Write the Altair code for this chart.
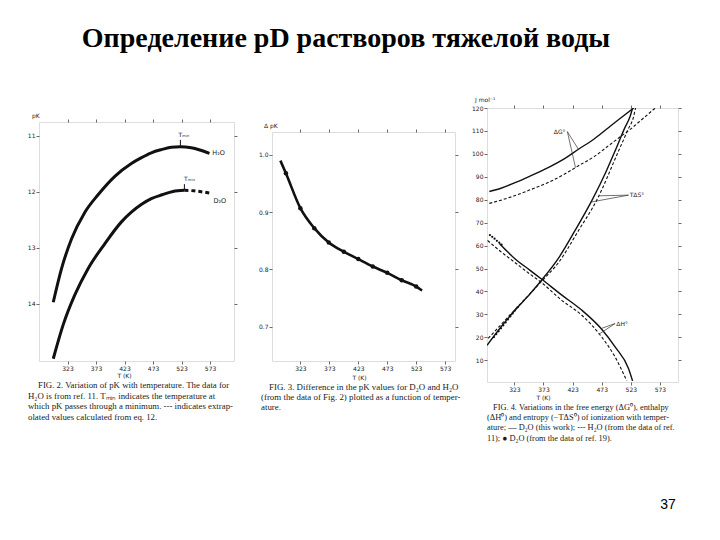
import altair as alt
import pandas as pd

TITLE = "Определение pD растворов тяжелой воды"
PAGE_NO = "37"
X_TICKS = [323, 373, 423, 473, 523, 573]
AXIS_T_TITLE = "T  (K)"

# ---------- Fig. 2 : pK vs T ----------
F2_H2O_T = [298, 312.5, 330, 353, 376.6, 406, 435, 452, 470, 489, 505, 521, 540, 555, 572]
F2_H2O_PK = [13.97, 13.37, 12.84, 12.37, 12.05, 11.72, 11.49, 11.39, 11.30, 11.24, 11.20, 11.19, 11.21, 11.25, 11.31]
F2_D2O_T = [298, 315.5, 335.8, 359, 388, 418, 435, 453, 470, 489, 508, 528]
F2_D2O_PK = [14.98, 14.37, 13.84, 13.37, 12.93, 12.53, 12.36, 12.22, 12.12, 12.05, 11.99, 11.97]
F2_D2O_EXT_T = [528, 545, 560, 573]
F2_D2O_EXT_PK = [11.97, 11.98, 12.0, 12.02]
F2_TMIN_T = [521, 528]
F2_TMIN_PK = [11.19, 11.97]
F2_TMIN_TOP = [11.07, 11.86]
F2_TMIN_LABEL = ["Tₘᵢₙ", "Tₘᵢₙ"]
F2_TMIN_LABEL_T = [527, 537]
F2_TMIN_LABEL_PK = [10.99, 11.77]
F2_NAMES = ["H₂O", "D₂O"]
F2_NAME_T = [577, 579]
F2_NAME_PK = [11.31, 12.17]
F2_Y_TICKS = [11, 12, 13, 14]
F2_YLABEL = "pK"
F2_CAPTION = [
    "FIG. 2.  Variation of pK with temperature. The data for",
    "H₂O is from ref. 11. Tₘᵢₙ indicates the temperature at",
    "which pK passes through a minimum. --- indicates extrap-",
    "olated values calculated from eq. 12.",
]

# ---------- Fig. 3 : delta pK vs T ----------
F3_T = [288.5, 298, 323, 347, 372, 398, 423, 448, 473, 498, 523, 533]
F3_DPK = [0.99, 0.968, 0.907, 0.872, 0.847, 0.831, 0.818, 0.805, 0.794, 0.781, 0.770, 0.763]
F3_DOT_T = [298, 323, 347, 372, 398, 423, 448, 473, 498, 523]
F3_DOT_DPK = [0.968, 0.907, 0.872, 0.847, 0.831, 0.818, 0.805, 0.794, 0.781, 0.770]
F3_Y_TICKS = [0.7, 0.8, 0.9, 1.0]
F3_YLABEL = "Δ pK"
F3_CAPTION = [
    "FIG. 3.  Difference in the pK values for D₂O and H₂O",
    "(from the data of Fig. 2) plotted as a function of temper-",
    "ature.",
]

# ---------- Fig. 4 : thermodynamic functions ----------
F4_G_D2O_T = [280, 300, 323, 350, 381, 410, 433, 460, 484.5, 505, 528]
F4_G_D2O = [83.6, 85.0, 87.3, 90.3, 94.0, 98.0, 102.0, 106.5, 111.4, 115.5, 120.0]
F4_G_H2O_T = [280, 300, 323, 350, 381, 410, 433, 460, 484.5, 505, 522, 542, 565]
F4_G_H2O = [78.4, 79.8, 81.7, 84.3, 87.5, 91.3, 94.8, 98.8, 103.5, 107.5, 110.7, 115.0, 120.0]
F4_S_D2O_T = [276, 300, 323, 350, 370, 400, 427, 456, 480, 496, 512, 522, 526]
F4_S_D2O = [16.5, 24.5, 31.5, 39.0, 45.0, 55.0, 66.5, 79.6, 92.0, 101.3, 111.0, 116.5, 120.0]
F4_S_H2O_T = [278, 300, 323, 350, 370, 400, 433, 464, 502, 518, 528, 531]
F4_S_H2O = [19.5, 25.5, 31.8, 39.0, 44.5, 53.0, 66.5, 79.6, 101.3, 110.5, 116.5, 120.0]
F4_H_D2O_T = [297, 310, 323, 350, 370, 404, 438, 473, 496, 519, 526]
F4_H_D2O = [61.0, 57.6, 54.5, 49.2, 45.3, 38.5, 32.0, 23.5, 15.8, 6.4, 1.0]
F4_H_H2O_T = [277, 300, 323, 350, 370, 404, 438, 473, 496, 516]
F4_H_H2O = [62.2, 57.3, 52.8, 47.5, 43.8, 36.2, 29.8, 20.1, 11.4, 1.0]
F4_REF19_T = [281, 285, 289, 293, 297, 301, 288, 292, 296, 300, 304, 308, 312, 316, 320, 324, 329]
F4_REF19 = [64.6, 63.8, 63.0, 62.1, 61.3, 60.4, 20.1, 21.4, 22.6, 23.9, 25.2, 26.5, 27.8, 29.1, 30.4, 31.7, 33.2]
F4_LABELS = ["ΔG°", "TΔS°", "ΔH°"]
F4_LABEL_T = [411, 521, 498]
F4_LABEL_Y = [109.7, 82.0, 26.0]
F4_LABEL_ALIGN = ["right", "left", "left"]
F4_LEAD_T1 = [414, 414, 519, 519, 496, 496]
F4_LEAD_Y1 = [109.7, 109.7, 82.0, 82.0, 26.0, 26.0]
F4_LEAD_T2 = [433, 428, 468, 455, 472, 468]
F4_LEAD_Y2 = [102.0, 94.0, 81.7, 79.0, 23.8, 21.3]
F4_Y_TICKS = [10, 20, 30, 40, 50, 60, 70, 80, 90, 100, 110, 120]
F4_YLABEL = "J  mol⁻¹"
F4_CAPTION = [
    "FIG. 4.  Variations in the free energy (ΔG⁰), enthalpy",
    "(ΔH⁰) and entropy (−TΔS⁰) of ionization with temper-",
    "ature; — D₂O (this work); --- H₂O (from the data of ref.",
    "11); ● D₂O (from the data of ref. 19).",
]

INK = "#111111"
TXT = "#222222"
ONE = pd.DataFrame({"a": [0]})

AXC = dict(labelFontSize=6, labelColor=TXT, labelFont="DejaVu Sans", tickSize=3,
           tickColor="#444", tickWidth=0.8, labelPadding=1, domain=False, grid=False)


def xy_df(xs, ys):
    return pd.DataFrame({"T": xs, "v": ys})


def main_axes(xscale, yscale, yvals, yfmt, title_x, title_y):
    x = alt.X("T:Q", scale=xscale, axis=alt.Axis(
        values=X_TICKS, format="d", title=AXIS_T_TITLE, titleX=title_x, titleY=title_y,
        titleFontSize=6, titleFontWeight="normal", titleColor=TXT, titleFont="DejaVu Sans",
        titleAlign="center", titleBaseline="top", **AXC))
    y = alt.Y("v:Q", scale=yscale, axis=alt.Axis(values=yvals, format=yfmt, title=None, **AXC))
    return x, y


def mirror_layer(df, xscale, yscale, yvals):
    return alt.Chart(df).mark_point(opacity=0).encode(
        x=alt.X("T:Q", scale=xscale, axis=alt.Axis(orient="top", values=X_TICKS, labels=False,
                                                    title=None, tickSize=3, tickColor="#444",
                                                    tickWidth=0.8, domain=False, grid=False)),
        y=alt.Y("v:Q", scale=yscale, axis=alt.Axis(orient="right", values=yvals, labels=False,
                                                    title=None, tickSize=3, tickColor="#444",
                                                    tickWidth=0.8, domain=False, grid=False)),
    )


def line(df, xscale, yscale, width, dash=None, x=None, y=None):
    kw = dict(color=INK, strokeWidth=width, interpolate="monotone", clip=True)
    if dash:
        kw["strokeDash"] = dash
    return alt.Chart(df).mark_line(**kw).encode(
        x=x if x is not None else alt.X("T:Q", scale=xscale, axis=None),
        y=y if y is not None else alt.Y("v:Q", scale=yscale, axis=None),
    )


def free_text(text, x, y, size=6, align="left", baseline="middle", font="DejaVu Sans",
              color=TXT, line_height=None):
    kw = dict(text=text, align=align, baseline=baseline, font=font, fontSize=size, color=color)
    if line_height:
        kw["lineHeight"] = line_height
    return alt.Chart(ONE).mark_text(**kw).encode(x=alt.value(x), y=alt.value(y))


def side_spacers(left, right):
    # invisible marks fixing the horizontal extent of a panel
    return [free_text(".", left, 4, size=2, baseline="top", color="white"),
            free_text(".", right, 4, size=2, align="right", baseline="top", color="white")]


def caption(lines, x_first, x_rest, y0, size=8, lh=10.5):
    return [free_text(lines[0], x_first, y0, size=size, baseline="top",
                      font="Liberation Serif", color="#1a1a1a"),
            free_text(lines[1:], x_rest, y0 + lh, size=size, baseline="top",
                      font="Liberation Serif", color="#1a1a1a", line_height=lh)]


def top_gap(width, height):
    return alt.Chart(ONE).mark_point(opacity=0).encode(
        x=alt.value(1), y=alt.value(height / 2)
    ).properties(width=width, height=height, view=alt.ViewBackground(strokeOpacity=0))


# ================= Panel 1 =================
W1, H1 = 195, 239
xs1 = alt.Scale(domain=[273, 615], nice=False, zero=False)
ys1 = alt.Scale(domain=[10.75, 15.02], reverse=True, nice=False, zero=False)
h2o = xy_df(F2_H2O_T, F2_H2O_PK)
d2o = xy_df(F2_D2O_T, F2_D2O_PK)
d2o_ext = xy_df(F2_D2O_EXT_T, F2_D2O_EXT_PK)
bx1, by1 = main_axes(xs1, ys1, F2_Y_TICKS, "d", 85, 11)
tmin = pd.DataFrame({"T": F2_TMIN_T, "v": F2_TMIN_PK, "v2": F2_TMIN_TOP, "lab": F2_TMIN_LABEL,
                     "lt": F2_TMIN_LABEL_T, "lv": F2_TMIN_LABEL_PK})
names1 = pd.DataFrame({"T": F2_NAME_T, "v": F2_NAME_PK, "lab": F2_NAMES})

p1_layers = [
    line(h2o, xs1, ys1, 3, x=bx1, y=by1),
    line(d2o, xs1, ys1, 3),
    line(d2o_ext, xs1, ys1, 3, dash=[4, 3]),
    alt.Chart(tmin).mark_rule(color=INK, strokeWidth=1).encode(
        x=alt.X("T:Q", scale=xs1, axis=None), y=alt.Y("v:Q", scale=ys1, axis=None), y2="v2:Q"),
    alt.Chart(tmin).mark_text(fontSize=6, color=TXT, font="DejaVu Sans").encode(
        x=alt.X("lt:Q", scale=xs1, axis=None), y=alt.Y("lv:Q", scale=ys1, axis=None), text="lab:N"),
    alt.Chart(names1).mark_text(fontSize=6.5, color=TXT, font="DejaVu Sans", align="left").encode(
        x=alt.X("T:Q", scale=xs1, axis=None), y=alt.Y("v:Q", scale=ys1, axis=None), text="lab:N"),
    mirror_layer(h2o, xs1, ys1, F2_Y_TICKS),
    free_text(F2_YLABEL, -7, -6, size=6),
] + caption(F2_CAPTION, -1, -11, 259, size=8.8, lh=10.6) + side_spacers(-14, 210)
p1 = alt.layer(*p1_layers).properties(width=W1, height=H1).resolve_axis(x="independent", y="independent")

# ================= Panel 2 =================
W2, H2 = 183, 229
xs2 = alt.Scale(domain=[274, 590], nice=False, zero=False)
ys2 = alt.Scale(domain=[0.64, 1.04], nice=False, zero=False)
d3 = xy_df(F3_T, F3_DPK)
d3dots = xy_df(F3_DOT_T, F3_DOT_DPK)
bx2, by2 = main_axes(xs2, ys2, F3_Y_TICKS, ".1f", 87, 13)
p2_layers = [
    line(d3, xs2, ys2, 2.6, x=bx2, y=by2),
    alt.Chart(d3dots).mark_circle(color=INK, size=20, opacity=1).encode(
        x=alt.X("T:Q", scale=xs2, axis=None), y=alt.Y("v:Q", scale=ys2, axis=None)),
    mirror_layer(d3, xs2, ys2, F3_Y_TICKS),
    free_text(F3_YLABEL, -8, -6, size=6),
] + caption(F3_CAPTION, -3, -11, 251, size=8.9, lh=10.2) + side_spacers(-21, 196)
p2 = alt.layer(*p2_layers).properties(width=W2, height=H2).resolve_axis(x="independent", y="independent")

# ================= Panel 3 =================
W3, H3 = 191, 274
xs3 = alt.Scale(domain=[276, 604], nice=False, zero=False)
ys3 = alt.Scale(domain=[0.5, 120], nice=False, zero=False)
bx3, by3 = main_axes(xs3, ys3, F4_Y_TICKS, "d", 56, 12)
gD = xy_df(F4_G_D2O_T, F4_G_D2O)
gH = xy_df(F4_G_H2O_T, F4_G_H2O)
sD = xy_df(F4_S_D2O_T, F4_S_D2O)
sH = xy_df(F4_S_H2O_T, F4_S_H2O)
hD = xy_df(F4_H_D2O_T, F4_H_D2O)
hH = xy_df(F4_H_H2O_T, F4_H_H2O)
ref19 = xy_df(F4_REF19_T, F4_REF19)
leads = pd.DataFrame({"T": F4_LEAD_T1, "v": F4_LEAD_Y1, "T2": F4_LEAD_T2, "v2": F4_LEAD_Y2})
labs4 = pd.DataFrame({"T": F4_LABEL_T, "v": F4_LABEL_Y, "lab": F4_LABELS, "al": F4_LABEL_ALIGN})

p3_layers = [
    line(gD, xs3, ys3, 1.4, x=bx3, y=by3),
    line(gH, xs3, ys3, 1.1, dash=[3, 2]),
    line(sD, xs3, ys3, 1.4),
    line(sH, xs3, ys3, 1.1, dash=[3, 2]),
    line(hD, xs3, ys3, 1.4),
    line(hH, xs3, ys3, 1.1, dash=[3, 2]),
    alt.Chart(ref19).mark_circle(color=INK, size=5, opacity=1).encode(
        x=alt.X("T:Q", scale=xs3, axis=None), y=alt.Y("v:Q", scale=ys3, axis=None)),
    alt.Chart(leads).mark_rule(color="#333", strokeWidth=0.7).encode(
        x=alt.X("T:Q", scale=xs3, axis=None), y=alt.Y("v:Q", scale=ys3, axis=None),
        x2="T2:Q", y2="v2:Q"),
    alt.Chart(labs4[labs4["al"] == "right"]).mark_text(fontSize=6, color=TXT, align="right",
                                                      font="DejaVu Sans").encode(
        x=alt.X("T:Q", scale=xs3, axis=None), y=alt.Y("v:Q", scale=ys3, axis=None), text="lab:N"),
    alt.Chart(labs4[labs4["al"] == "left"]).mark_text(fontSize=6, color=TXT, align="left",
                                                     font="DejaVu Sans").encode(
        x=alt.X("T:Q", scale=xs3, axis=None), y=alt.Y("v:Q", scale=ys3, axis=None), text="lab:N"),
    mirror_layer(gD, xs3, ys3, F4_Y_TICKS),
    free_text(F4_YLABEL, -12, -8, size=6),
    free_text(PAGE_NO, 181, 397, size=14, align="center", font="Liberation Sans", color="#000"),
] + caption(F4_CAPTION, 6, 0, 294.7, size=8.4, lh=10.3) + side_spacers(-17, 200)
p3 = alt.layer(*p3_layers).properties(width=W3, height=H3).resolve_axis(x="independent", y="independent")

col1 = alt.vconcat(top_gap(W1, 14), p1, spacing=0, bounds="flush")
col2 = alt.vconcat(top_gap(W2, 24), p2, spacing=0, bounds="flush")

chart = alt.hconcat(col1, col2, p3, spacing=0).properties(
    title=alt.TitleParams(TITLE, font="Liberation Serif", fontSize=28, fontWeight="bold",
                          color="#000", anchor="middle", offset=44, dx=-10),
    padding={"left": 16, "top": 16, "right": 5, "bottom": 5},
).configure_view(stroke="#444", strokeWidth=0.9).configure(background="white")

chart.save("out.html", embed_options={"renderer": "svg", "actions": False})
